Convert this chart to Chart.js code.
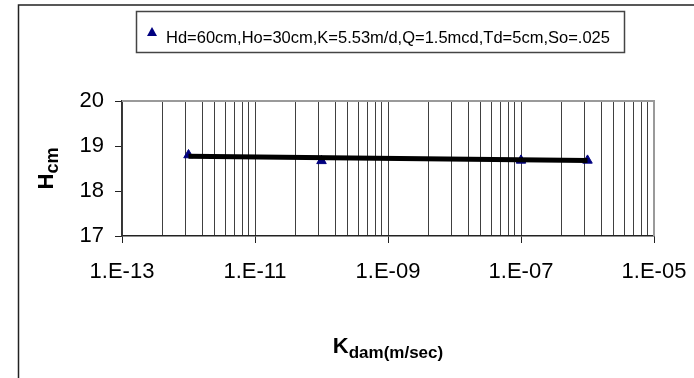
<!DOCTYPE html>
<html>
<head>
<meta charset="utf-8">
<script src="https://cdn.jsdelivr.net/npm/chart.js"></script>
<style>
  body { margin: 0; background: #fff; }
  canvas { display: block; }
</style>
</head>
<body>
<canvas id="chart" width="694" height="378"></canvas>
<script>
// data
const seriesLabel = 'Hd=60cm,Ho=30cm,K=5.53m/d,Q=1.5mcd,Td=5cm,So=.025';
const kDam = [1e-12, 1e-10, 1e-7, 1e-6];
const hCm = [18.8, 18.67, 18.68, 18.68];
const trendK = [1e-12, 1e-6];
const trendH = [18.77, 18.68];
const xMajorExp = [-13, -11, -9, -7, -5];
const xTickLabels = ['1.E-13', '1.E-11', '1.E-09', '1.E-07', '1.E-05'];
const yTicks = [17, 18, 19, 20];

const fontName = '"Liberation Sans", Arial, sans-serif';

// log axis with base 100: majors every two decades, minors at k^2
function buildXTicks() {
  const ticks = [];
  for (let i = 0; i < xMajorExp.length; i++) {
    const base = Math.pow(10, xMajorExp[i]);
    ticks.push({ value: base, major: true, label: xTickLabels[i] });
    if (i == xMajorExp.length - 1) break;
    for (let k = 2; k <= 9; k++) {
      ticks.push({ value: k * k * base, major: false, label: '' });
    }
  }
  return ticks;
}
const xTicks = buildXTicks();

const chromePlugin = {
  id: 'chrome',
  afterDraw(chart) {
    const c = chart.ctx;
    const a = chart.chartArea;
    c.save();
    // outer frame of the chart object
    c.strokeStyle = '#222';
    c.lineWidth = 1.5;
    c.beginPath();
    c.moveTo(18.5, 400);
    c.lineTo(18.5, 5);
    c.lineTo(720, 5);
    c.stroke();

    // grey plot border top and right
    c.strokeStyle = '#9a9a9a';
    c.lineWidth = 2;
    c.beginPath();
    c.moveTo(a.left, a.top);
    c.lineTo(a.right, a.top);
    c.lineTo(a.right, a.bottom);
    c.stroke();

    // legend box
    c.strokeStyle = '#444';
    c.lineWidth = 1.5;
    c.strokeRect(136.5, 11.5, 488, 41);
    c.fillStyle = '#000080';
    c.beginPath();
    c.moveTo(152, 27);
    c.lineTo(157, 36);
    c.lineTo(147, 36);
    c.closePath();
    c.fill();
    c.fillStyle = '#000';
    c.font = '16.5px ' + fontName;
    c.textBaseline = 'alphabetic';
    c.fillText(seriesLabel, 166, 43);

    // x title  K_dam(m/sec)
    const midX = (a.left + a.right) / 2;
    c.font = 'bold 22px ' + fontName;
    const wK = c.measureText('K').width;
    c.font = 'bold 17px ' + fontName;
    const wSub = c.measureText('dam(m/sec)').width;
    let x0 = midX - (wK + wSub) / 2;
    c.font = 'bold 22px ' + fontName;
    c.fillText('K', x0, 353);
    c.font = 'bold 17px ' + fontName;
    c.fillText('dam(m/sec)', x0 + wK, 358);

    // y title  H_cm, rotated
    const midY = (a.top + a.bottom) / 2;
    c.translate(53, midY);
    c.rotate(-Math.PI / 2);
    c.font = 'bold 22px ' + fontName;
    const wH = c.measureText('H').width;
    c.font = 'bold 18px ' + fontName;
    const wCm = c.measureText('cm').width;
    x0 = -(wH + wCm) / 2;
    c.font = 'bold 22px ' + fontName;
    c.fillText('H', x0, 0);
    c.font = 'bold 18px ' + fontName;
    c.fillText('cm', x0 + wH, 5);
    c.restore();
  }
};

const ctx = document.getElementById('chart').getContext('2d');
const chart = new Chart(ctx, {
  type: 'scatter',
  data: {
    datasets: [
      {
        label: 'trend',
        data: trendK.map((k, i) => ({ x: k, y: trendH[i] })),
        showLine: true,
        borderColor: '#000',
        borderWidth: 5,
        pointRadius: 0,
        fill: false
      },
      {
        label: seriesLabel,
        data: kDam.map((k, i) => ({ x: k, y: hCm[i] })),
        pointStyle: 'triangle',
        pointRadius: 5.5,
        backgroundColor: '#000080',
        borderColor: '#000080',
        borderWidth: 1
      }
    ]
  },
  options: {
    responsive: false,
    animation: false,
    layout: { padding: { top: 101, right: 40, left: 0, bottom: 0 } },
    plugins: {
      legend: { display: false },
      tooltip: { enabled: false }
    },
    scales: {
      x: {
        type: 'logarithmic',
        min: 1e-13,
        max: 1e-5,
        afterBuildTicks(scale) {
          scale.ticks = xTicks.map(t => ({ value: t.value, major: t.major, label: t.label }));
        },
        afterFit(scale) {
          scale.height = 378 - 236;
          scale.paddingLeft = 0;
          scale.paddingRight = 0;
        },
        ticks: {
          autoSkip: false,
          maxRotation: 0,
          padding: 16,
          color: '#000',
          font: { family: fontName, size: 22 },
          callback: (v, i, ticks) => xTicks[i] ? xTicks[i].label : ''
        },
        grid: {
          color: '#404040',
          lineWidth: 1,
          tickLength: 7,
          tickColor: c => (c.tick && c.tick.major) ? '#222' : 'rgba(0,0,0,0)'
        },
        border: { color: '#222', width: 1.5 }
      },
      y: {
        min: 17,
        max: 20,
        afterBuildTicks(scale) {
          scale.ticks = yTicks.map(v => ({ value: v }));
        },
        afterFit(scale) {
          scale.width = 122;
          scale.paddingTop = 0;
          scale.paddingBottom = 0;
        },
        ticks: {
          padding: 11,
          color: '#000',
          font: { family: fontName, size: 22 }
        },
        grid: {
          drawOnChartArea: false,
          tickLength: 7,
          tickColor: '#222'
        },
        border: { color: '#333', width: 1.5 }
      }
    }
  },
  plugins: [chromePlugin]
});
</script>
</body>
</html>
